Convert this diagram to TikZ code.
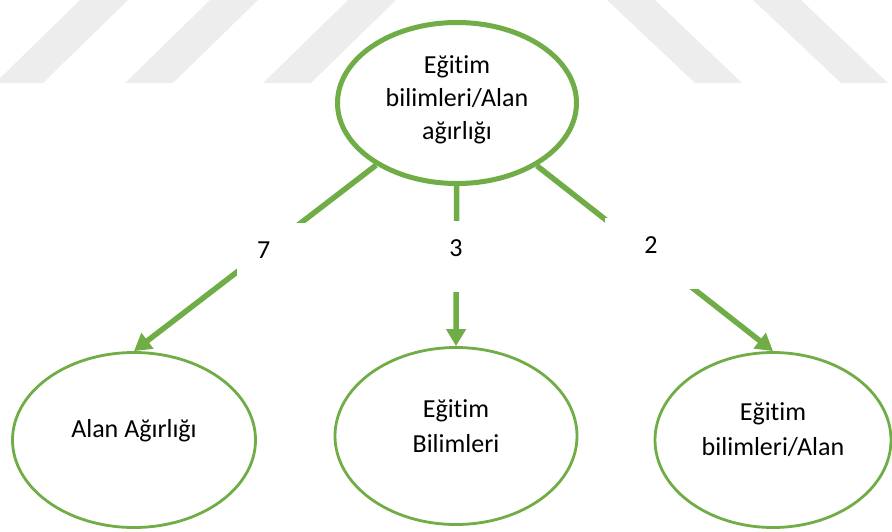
\documentclass[tikz,border=0pt]{standalone}
\usepackage{fontspec}
\setmainfont{Carlito}[Ligatures=NoCommon]
\usepackage{tikz}
\usetikzlibrary{arrows.meta, shapes.geometric}
\definecolor{leaf}{HTML}{70AD47}
\definecolor{stripe}{HTML}{EDEDED}
\tikzset{
    bubble/.style={ellipse, draw=leaf, fill=white, line width=2.8pt, align=center, inner sep=0pt}, % 下层椭圆
    root/.style={bubble, line width=5pt}, % 顶层椭圆
    link/.style={draw=leaf, line width=5.5pt, -{Triangle[length=17pt, width=19pt]}}, % 带箭头的连线
    weight/.style={fill=white, inner sep=0pt, text height=35pt, text depth=36pt} % 连线上的权重
}

\begin{document}
\begin{tikzpicture}[x=1pt, y=-1pt, font=\fontsize{26}{33}\selectfont]
    \useasboundingbox (0,0) rectangle (892,531);

    % 背景斜纹
    \foreach \b in {-5,125,263} {\fill[stripe] (\b,83) -- (\b+48,83) -- (\b+133,0) -- (\b+85,0) -- cycle;}
    \foreach \t in {607,753} {\fill[stripe] (\t,0) -- (\t+48,0) -- (\t+135,83) -- (\t+88,83) -- cycle;}

    \node[root, minimum width=239pt, minimum height=161pt, text height=77pt, text depth=5pt] (top) at (457,103) {Eğitim\\bilimleri/Alan\\ağırlığı};
    \node[bubble, minimum width=243pt, minimum height=175pt, text height=21pt, text depth=27pt] (alan) at (134,440) {Alan Ağırlığı};
    \node[bubble, minimum width=242pt, minimum height=177pt, text height=40pt, text depth=8pt] (egt) at (456,436) {Eğitim\\[2pt]Bilimleri};
    \node[bubble, minimum width=236pt, minimum height=175pt, text height=38pt, text depth=8pt] (both) at (773,440) {Eğitim\\[2pt]bilimleri/Alan};

    \draw[link] (top) -- (alan.north);
    \draw[link] (top) -- (egt.north);
    \draw[link] (top) -- (both.north);

    \node[weight, anchor=north west, inner xsep=20pt, text width=30pt, align=left] (w7) at (237,223) {7};
    \node[weight, anchor=north, minimum width=60pt] (w3) at (456,221) {3};
    \node[weight, anchor=north, minimum width=93pt] (w2) at (651,218) {2};
\end{tikzpicture}
\end{document}
